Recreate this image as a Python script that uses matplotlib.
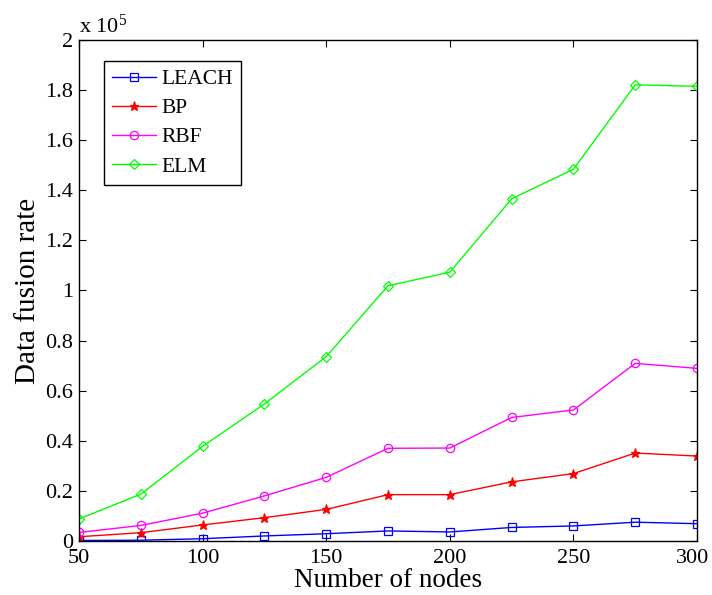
import matplotlib
matplotlib.use("Agg")
import matplotlib.pyplot as plt
from matplotlib.transforms import ScaledTranslation

nodes = [50, 75, 100, 125, 150, 175, 200, 225, 250, 275, 300]
leach = [0.002, 0.003, 0.009, 0.020, 0.029, 0.040, 0.036, 0.054, 0.060, 0.075, 0.069]
bp = [0.017, 0.033, 0.064, 0.093, 0.126, 0.185, 0.185, 0.236, 0.269, 0.351, 0.339]
rbf = [0.034, 0.062, 0.111, 0.180, 0.254, 0.370, 0.371, 0.493, 0.523, 0.709, 0.689]
elm = [0.088, 0.187, 0.378, 0.547, 0.736, 1.019, 1.073, 1.366, 1.484, 1.821, 1.815]
series_names = ["LEACH", "BP", "RBF", "ELM"]
xticks = [50, 100, 150, 200, 250, 300]
yticks = [0, 0.2, 0.4, 0.6, 0.8, 1, 1.2, 1.4, 1.6, 1.8, 2]
ytick_labels = ["0", "0.2", "0.4", "0.6", "0.8", "1", "1.2", "1.4", "1.6", "1.8", "2"]

plt.rcParams['font.family'] = ['Liberation Serif', 'DejaVu Serif']
plt.rcParams['mathtext.fontset'] = 'custom'
plt.rcParams['mathtext.rm'] = 'Liberation Serif'
plt.rcParams['mathtext.it'] = 'Liberation Serif:italic'

fig = plt.figure(figsize=(7.12, 5.95), dpi=100)
ax = fig.add_axes([0.1110, 0.0908, 0.8680, 0.8420])

styles = [
    dict(color='#0000ff', marker='s', markersize=6, markerfacecolor='none'),
    dict(color='#ff0000', marker='*', markersize=6.5),
    dict(color='#ff00ff', marker='o', markersize=6, markerfacecolor='none'),
    dict(color='#00ff00', marker='D', markersize=4.8, markerfacecolor='none'),
]
for data, name, st in zip([leach, bp, rbf, elm], series_names, styles):
    ax.plot(nodes, data, linewidth=1.0, label=name, markeredgewidth=0.9, **st)

ax.set_xlim(50, 300)
ax.set_ylim(0, 2)
ax.set_xticks(xticks)
ax.set_yticks(yticks)
ax.set_yticklabels(ytick_labels)
ax.tick_params(direction='in', top=True, right=True, labelsize=16, length=5)
ax.tick_params(axis='x', pad=6)
ax.tick_params(axis='y', pad=4)
for s in ax.spines.values():
    s.set_linewidth(1.0)
ax.set_xlabel("Number of nodes", fontsize=19.5, labelpad=0)
ax.set_ylabel("Data fusion rate", fontsize=21, labelpad=3)
ax.text(0.0, 1.014, r"x 10$^{5}$", transform=ax.transAxes, fontsize=16,
        ha='left', va='baseline')

# nudge the last x tick label slightly inward so it stays inside the canvas
last = ax.get_xticklabels()[-1]
last.set_transform(last.get_transform() + ScaledTranslation(-3 / 72, 0, fig.dpi_scale_trans))

leg = ax.legend(loc='upper left', bbox_to_anchor=(0.0405, 0.958), borderaxespad=0,
                fontsize=15.5, frameon=True, fancybox=False, edgecolor='black',
                framealpha=1, handlelength=2.05, borderpad=0.38, labelspacing=0.42,
                handletextpad=0.23)
leg.get_frame().set_linewidth(1.0)

fig.savefig("out.png", dpi=100)
